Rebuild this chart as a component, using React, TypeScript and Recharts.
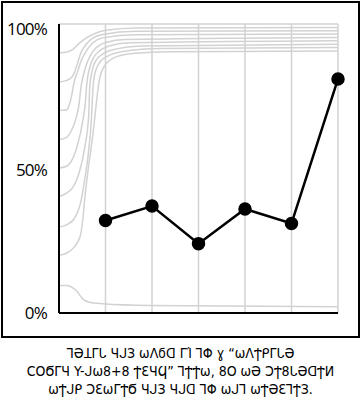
import { Line, LineChart, ReferenceLine, XAxis, YAxis } from 'recharts';

// main series
const steps = [1, 2, 3, 4, 5, 6];
const shares = [32, 37, 24, 36, 31, 81];
const yTicks = [0, 50, 100];

// light contour lines on the left, read as [x, percent]
const contour100: [number, number][] = [[0, 100], [6, 100]];
const contour90: [number, number][] = [[0, 90], [0.15, 90.2], [0.29, 91.1], [0.44, 93.4], [0.58, 95.1], [0.8, 96.9], [1.01, 97.8], [1.66, 98.6], [6, 98.8]];
const contour80: [number, number][] = [[0, 79.9], [0.15, 80.4], [0.26, 81.3], [0.33, 83.1], [0.4, 86.5], [0.47, 90], [0.58, 92.9], [0.73, 95.2], [0.94, 96.4], [1.66, 97.5], [6, 97.7]];
const contour70: [number, number][] = [[0, 70.1], [0.15, 70.2], [0.22, 71.9], [0.28, 75.9], [0.32, 79.5], [0.4, 83.5], [0.47, 87], [0.58, 90.5], [0.73, 93.5], [0.94, 95.2], [1.66, 96.3], [6, 96.5]];
const contour60: [number, number][] = [[0, 60], [0.15, 60.6], [0.26, 62.9], [0.37, 67.5], [0.44, 73.3], [0.47, 77.9], [0.52, 82], [0.58, 85.5], [0.67, 89], [0.8, 91.8], [1.01, 93.6], [1.42, 94.6], [6, 95.3]];
const contour50: [number, number][] = [[0, 50.2], [0.15, 50.7], [0.3, 53.6], [0.4, 58.2], [0.51, 66.3], [0.57, 73.3], [0.59, 77.9], [0.62, 82], [0.67, 85.5], [0.75, 88.5], [0.88, 90.8], [1.1, 92.5], [1.53, 93.5], [6, 94.2]];
const contour40: [number, number][] = [[0, 40.3], [0.15, 41.4], [0.33, 44.3], [0.44, 48.9], [0.55, 57], [0.64, 68.6], [0.66, 77.9], [0.69, 82], [0.73, 85], [0.8, 87.5], [0.94, 89.6], [1.21, 91.3], [1.75, 92.4], [6, 93]];
const contour30: [number, number][] = [[0, 29.8], [0.15, 30.4], [0.33, 32.7], [0.44, 36.7], [0.49, 40], [0.55, 46], [0.63, 55], [0.7, 68], [0.73, 77.9], [0.76, 82], [0.81, 84.8], [0.9, 87.2], [1.06, 89], [1.42, 90.6], [2.18, 91.5], [6, 91.9]];
const contour20: [number, number][] = [[0, 20], [0.15, 20.6], [0.33, 22.9], [0.45, 26.3], [0.51, 32.1], [0.55, 39], [0.63, 50], [0.73, 62], [0.82, 75], [0.86, 80], [0.9, 82.8], [0.96, 85], [1.06, 87], [1.25, 88.8], [1.64, 89.9], [2.4, 90.4], [6, 90.7]];
const contour10: [number, number][] = [[0, 9.5], [0.15, 9.5], [0.37, 7.8], [0.51, 4.9], [0.65, 3.7], [0.94, 3.2], [1.96, 2.6], [6, 2.2]];

const contours = [contour100, contour90, contour80, contour70, contour60, contour50, contour40, contour30, contour20, contour10];

const caption = [
  'ꞀƏꞱΓᒐ ЧᒍЗ ωɅϭᗡ ΓΊ ꞀΦ ɣ “ωɅϮᑭΓᒐƏ',
  'ϹOϬΓЧ Y-ᒍω8+8 ϮƐЧϤ” ꞀϮϮω, 8O ωƏ ƆϮ8ᒐƏᗡϮИ',
  'ωϮᒍᑭ ƆƐωΓϮϬ ЧᒍЗ Чᒍᗡ ꞀΦ ωᒍꞀ ωϮƏƐꞀϮЗ.',
];

const gray = '#d2d2d2';

function PercentTick({ x, y, payload }: any) {
  // hand-lettered labels sit a little low
  const dy = payload.value === 100 ? 5 : payload.value === 50 ? 2 : 0;
  return (
    <text
      x={x - 4}
      y={y + dy}
      dy="0.35em"
      textAnchor="end"
      fill="#000"
      fontSize={17}
      fontFamily="Open Sans"
      letterSpacing={-0.8}
    >
      {`${payload.value}%`}
    </text>
  );
}

export default function App() {
  const mainData = steps.map((x, i) => ({ x, y: shares[i] }));

  return (
    <div style={{ position: 'relative', width: 361, height: 407, background: '#fff' }}>
      <style>{'body{margin:0}'}</style>
      <div
        style={{
          position: 'absolute',
          left: 1,
          top: 1,
          width: 359,
          height: 337,
          border: '2px solid #000',
          boxSizing: 'border-box',
        }}
      />
      <div style={{ position: 'absolute', left: 0, top: 0 }}>
        <LineChart width={361} height={340} margin={{ top: 24, right: 23, bottom: 27, left: 0 }}>
          <XAxis dataKey="x" type="number" domain={[0, 6]} hide />
          <YAxis
            domain={[0, 100]}
            ticks={yTicks}
            tickLine={false}
            axisLine={{ stroke: '#000', strokeWidth: 2 }}
            tick={<PercentTick />}
            width={59}
          />
          {steps.map((x) => (
            <ReferenceLine key={x} x={x} stroke={gray} strokeWidth={1.5} />
          ))}
          {contours.map((c, i) => (
            <Line
              key={i}
              data={c.map(([x, y]) => ({ x, y }))}
              dataKey="y"
              type="monotone"
              stroke={gray}
              strokeWidth={1.5}
              dot={false}
              isAnimationActive={false}
            />
          ))}
          <ReferenceLine y={0} stroke="#000" strokeWidth={2} />
          <Line
            data={mainData}
            dataKey="y"
            type="linear"
            stroke="#000"
            strokeWidth={2.5}
            dot={{ r: 5.5, fill: '#000', stroke: '#000' }}
            isAnimationActive={false}
          />
        </LineChart>
      </div>
      <div
        style={{
          position: 'absolute',
          left: 0,
          top: 344,
          width: 361,
          textAlign: 'center',
          fontFamily: '"DejaVu Sans Condensed", "DejaVu Sans"',
          fontSize: 14,
          lineHeight: '18px',
          color: '#000',
        }}
      >
        {caption.map((line) => (
          <div key={line}>{line}</div>
        ))}
      </div>
    </div>
  );
}
